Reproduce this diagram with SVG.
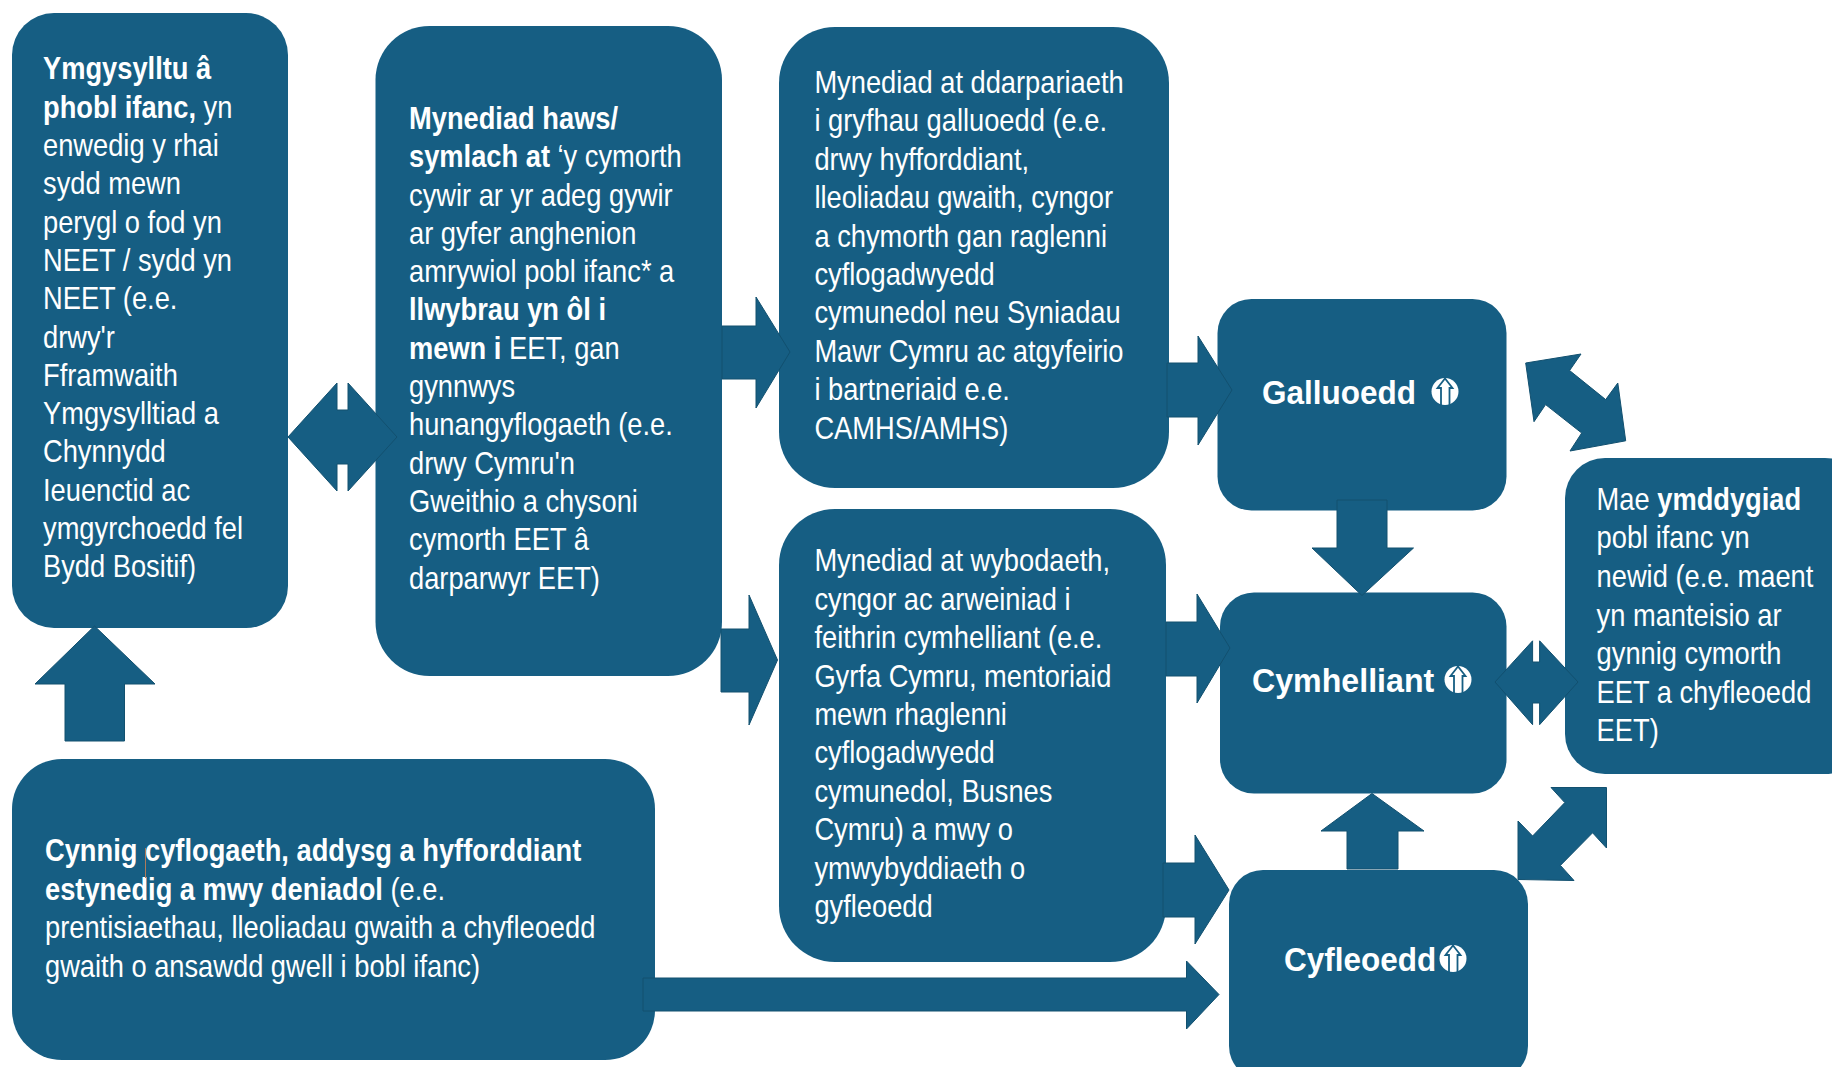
<svg xmlns="http://www.w3.org/2000/svg" width="1832" height="1067" viewBox="0 0 1832 1067">
<style>
.box{fill:#165e83}
.arr{fill:#165e83;stroke:#12506f;stroke-width:1}
text{font-family:"Liberation Sans",Arial,sans-serif;fill:#fff;font-size:31px}
.b{font-weight:700}
.ttl{font-weight:700;font-size:33.5px}
.ico{fill:#fff}
.icl{fill:none;stroke:#165e83;stroke-width:1.8}
</style>
<defs>
<g id="up"><circle r="13.500" class="ico"/><path class="icl" d="M-4 14V-3.500H-7.500L0-13 7.500-3.500H4.500V14"/></g>
</defs>
<rect width="1832" height="1067" fill="#fff"/>
<g id="node-ymgysylltu">
<rect class="box" x="12" y="13" width="276" height="615" rx="42"/>
<g transform="translate(43,2) scale(.88,1)">
<text><tspan x="0" y="77.500" class="b">Ymgysylltu â</tspan><tspan x="0" y="115.800" class="b">phobl ifanc,</tspan><tspan> yn</tspan><tspan x="0" y="154.100">enwedig y rhai</tspan><tspan x="0" y="192.400">sydd mewn</tspan><tspan x="0" y="230.700">perygl o fod yn</tspan><tspan x="0" y="269">NEET / sydd yn</tspan><tspan x="0" y="307.300">NEET (e.e.</tspan><tspan x="0" y="345.600">drwy'r</tspan><tspan x="0" y="383.900">Fframwaith</tspan><tspan x="0" y="422.200">Ymgysylltiad a</tspan><tspan x="0" y="460.500">Chynnydd</tspan><tspan x="0" y="498.800">Ieuenctid ac</tspan><tspan x="0" y="537.100">ymgyrchoedd fel</tspan><tspan x="0" y="575.400">Bydd Bositif)</tspan></text>
</g>
</g>
<g id="node-mynediad-haws">
<rect class="box" x="375.500" y="26" width="346.500" height="650" rx="54"/>
<g transform="translate(409,1) scale(.88,1)">
<text><tspan x="0" y="128" class="b">Mynediad haws/</tspan><tspan x="0" y="166.300" class="b">symlach at</tspan><tspan> ‘y cymorth</tspan><tspan x="0" y="204.600">cywir ar yr adeg gywir</tspan><tspan x="0" y="242.900">ar gyfer anghenion</tspan><tspan x="0" y="281.200">amrywiol pobl ifanc* a</tspan><tspan x="0" y="319.500" class="b">llwybrau yn ôl i</tspan><tspan x="0" y="357.800" class="b">mewn i</tspan><tspan> EET, gan</tspan><tspan x="0" y="396.100">gynnwys</tspan><tspan x="0" y="434.400">hunangyflogaeth (e.e.</tspan><tspan x="0" y="472.700">drwy Cymru'n</tspan><tspan x="0" y="511">Gweithio a chysoni</tspan><tspan x="0" y="549.300">cymorth EET â</tspan><tspan x="0" y="587.600">darparwyr EET)</tspan></text>
</g>
</g>
<g id="node-darpariaeth">
<rect class="box" x="779" y="27" width="390" height="461" rx="56"/>
<g transform="translate(814.400,1.500) scale(.88,1)">
<text><tspan x="0" y="91.500">Mynediad at ddarpariaeth</tspan><tspan x="0" y="129.900">i gryfhau galluoedd (e.e.</tspan><tspan x="0" y="168.300">drwy hyfforddiant,</tspan><tspan x="0" y="206.700">lleoliadau gwaith, cyngor</tspan><tspan x="0" y="245.100">a chymorth gan raglenni</tspan><tspan x="0" y="283.500">cyflogadwyedd</tspan><tspan x="0" y="321.900">cymunedol neu Syniadau</tspan><tspan x="0" y="360.300">Mawr Cymru ac atgyfeirio</tspan><tspan x="0" y="398.700">i bartneriaid e.e.</tspan><tspan x="0" y="437.100">CAMHS/AMHS)</tspan></text>
</g>
</g>
<g id="node-wybodaeth">
<rect class="box" x="779" y="509" width="387" height="453" rx="56"/>
<g transform="translate(814.400,1.500) scale(.88,1)">
<text><tspan x="0" y="570">Mynediad at wybodaeth,</tspan><tspan x="0" y="608.400">cyngor ac arweiniad i</tspan><tspan x="0" y="646.800">feithrin cymhelliant (e.e.</tspan><tspan x="0" y="685.200">Gyrfa Cymru, mentoriaid</tspan><tspan x="0" y="723.600">mewn rhaglenni</tspan><tspan x="0" y="762">cyflogadwyedd</tspan><tspan x="0" y="800.400">cymunedol, Busnes</tspan><tspan x="0" y="838.800">Cymru) a mwy o</tspan><tspan x="0" y="877.200">ymwybyddiaeth o</tspan><tspan x="0" y="915.600">gyfleoedd</tspan></text>
</g>
</g>
<g id="node-cynnig">
<rect class="box" x="12" y="759" width="643" height="301" rx="50"/>
<g transform="translate(45,1.500) scale(.88,1)">
<text><tspan x="0" y="860" class="b">Cynnig cyflogaeth, addysg a hyfforddiant</tspan><tspan x="0" y="898.500" class="b">estynedig a mwy deniadol</tspan><tspan> (e.e.</tspan><tspan x="0" y="937">prentisiaethau, lleoliadau gwaith a chyfleoedd</tspan><tspan x="0" y="976">gwaith o ansawdd gwell i bobl ifanc)</tspan></text>
</g>
<path d="M145.500 848V878" stroke="#b07a5a" stroke-width="1" fill="none"/>
</g>
<g id="node-galluoedd">
<rect class="box" x="1217.500" y="299" width="289" height="211.500" rx="34"/>
<g transform="translate(1262,0) scale(.94,1)"><text class="ttl" x="0" y="404.500">Galluoedd</text></g>
<use href="#up" x="1445" y="391.500"/>
</g>
<g id="node-cymhelliant">
<rect class="box" x="1220" y="592.500" width="286.500" height="201" rx="34"/>
<g transform="translate(1252,0) scale(.96,1)"><text class="ttl" x="0" y="692">Cymhelliant</text></g>
<use href="#up" x="1458" y="679.500"/>
</g>
<g id="node-cyfleoedd">
<rect class="box" x="1229" y="870" width="299" height="210" rx="34"/>
<g transform="translate(1284,0) scale(.94,1)"><text class="ttl" x="0" y="971.500">Cyfleoedd</text></g>
<use href="#up" x="1453" y="958.500"/>
</g>
<g id="node-ymddygiad">
<rect class="box" x="1565" y="458" width="300" height="316" rx="40"/>
<g transform="translate(1596.600,1.500) scale(.88,1)">
<text><tspan x="0" y="508.500">Mae </tspan><tspan class="b">ymddygiad</tspan><tspan x="0" y="547">pobl ifanc yn</tspan><tspan x="0" y="585.500">newid (e.e. maent</tspan><tspan x="0" y="624.500">yn manteisio ar</tspan><tspan x="0" y="663">gynnig cymorth</tspan><tspan x="0" y="701.500">EET a chyfleoedd</tspan><tspan x="0" y="740">EET)</tspan></text>
</g>
</g>
<g id="connectors">
<polygon class="arr" points="94.500,626 155,684 124.500,684 124.500,741 65,741 65,684 35,684"/>
<polygon class="arr" points="288,437 337,383 337,410 348,410 348,383 397,437 348,491 348,464 337,464 337,491"/>
<polygon class="arr" points="722,326 756,326 756,297 790,352 756,408 756,379 722,379"/>
<polygon class="arr" points="721,629 749,629 749,595 777.500,660 749,725 749,692 721,692"/>
<polygon class="arr" points="1167,363 1198,363 1198,336 1232,390 1198,445 1198,417 1167,417"/>
<polygon class="arr" points="1166,622 1197,622 1197,594 1230,648 1197,703 1197,676 1166,676"/>
<polygon class="arr" points="1163,863 1195,863 1195,835 1229,890 1195,944 1195,917 1163,917"/>
<polygon class="arr" points="643,978 1186.500,978 1186.500,961 1219,994.500 1186.500,1029 1186.500,1011 643,1011"/>
<polygon class="arr" points="1337,500 1387,500 1387,548 1413.500,548 1362,595.500 1312,548 1337,548"/>
<polygon class="arr" points="1372,793.500 1424,831 1398,831 1398,869 1347,869 1347,831 1321,831"/>
<polygon class="arr" points="1525.700,363 1581,354 1569.600,370.500 1605.700,399.600 1617.800,383 1625.700,440.800 1570,451 1581.700,433 1545.600,404.600 1534,421.700"/>
<polygon class="arr" points="1495,682 1532.600,640.800 1532.600,662 1539.600,662 1539.600,640.800 1578,682 1539.600,724.700 1539.600,703 1532.600,703 1532.600,724.700"/>
<polygon class="arr" points="1518,879.500 1518,821 1532.600,836 1564.800,802.600 1551,787.500 1606.500,787.500 1606.500,848 1592.600,832.800 1560.400,865.400 1574,880.500"/>
</g>
</svg>
